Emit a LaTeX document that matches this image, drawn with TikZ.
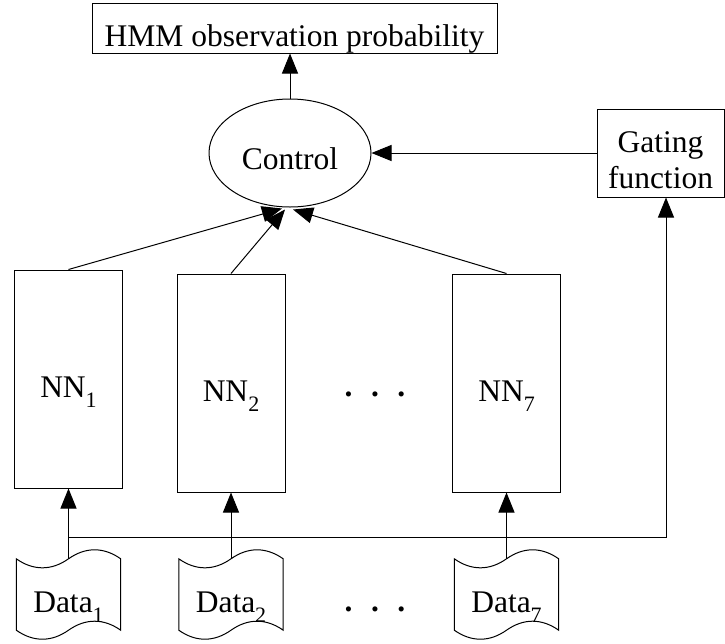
\documentclass[tikz,border=0pt]{standalone}
\usepackage{fontspec}
\setmainfont{Liberation Serif}
\usetikzlibrary{arrows.meta,shapes.geometric,calc}
\newcommand{\tapeshape}[1]{%
  \draw[ln] (#1.north west) .. controls +(17,12) and +(-17,12) .. (#1.north)
    .. controls +(17,-12) and +(-17,-12) .. (#1.north east)
    -- (#1.south east) .. controls +(-17,-12) and +(17,-12) .. (#1.south)
    .. controls +(-17,12) and +(17,12) .. (#1.south west) -- cycle;}
\newcommand{\sbs}[1]{\raisebox{-10pt}{\fontsize{22}{22}\selectfont #1}}
\begin{document}
\begin{tikzpicture}[x=1pt,y=-1pt,
  ln/.style={line width=1pt,black},
  arr/.style={ln,-{Triangle[length=20pt,width=16pt]}},
  txt/.style={font=\fontsize{31.5}{36}\selectfont},
  box/.style={txt,draw,ln,inner sep=0pt,align=center},
  nnbox/.style={box,minimum width=108pt,minimum height=218pt,text height=36pt,text depth=0pt},
  databox/.style={txt,inner sep=0pt,minimum width=104pt,minimum height=71pt,text height=35pt,text depth=0pt},
  dots/.style={txt,inner sep=0pt,anchor=base,font=\fontsize{31.5}{36}\selectfont\bfseries}
]
\useasboundingbox (0,0) rectangle (725,643);
\node[box,minimum width=405pt,minimum height=50pt,text height=36pt,text depth=0pt] (hmm) at (294.5,28) {HMM observation probability};
\node[txt,draw,ln,ellipse,minimum width=162pt,minimum height=108pt,inner sep=0pt,text height=32pt,text depth=0pt] (ctrl) at (290,153) {Control};
\node[box,minimum width=127pt,minimum height=88pt,text height=70pt,text depth=0pt] (gate) at (660.5,153) {Gating\\function};
\node[nnbox] (nn1) at (68.5,379) {NN\sbs{1}};
\node[nnbox] (nn2) at (231,383) {NN\sbs{2}};
\node[nnbox] (nn7) at (506.5,383) {NN\sbs{7}};
\node[dots] (dotsa) at (375,396) {.\hspace{18.5pt}.\hspace{18.5pt}.};
\node[databox] (d1) at (68.5,594.5) {Data\sbs{1}};
\node[databox] (d2) at (231,594.5) {Data\sbs{2}};
\node[databox] (d7) at (506.5,594.5) {Data\sbs{7}};
\node[dots] (dotsb) at (375,611) {.\hspace{18.5pt}.\hspace{18.5pt}.};
\tapeshape{d1}\tapeshape{d2}\tapeshape{d7}
\draw[arr] (ctrl.north) -- (ctrl.north |- hmm.south);
\draw[arr] (gate.west) -- (ctrl.east);
\draw[arr] (nn1.north) -- ($(ctrl.south)+(-8,1)$);
\draw[arr] (nn2.north) -- ($(ctrl.south)+(-5,2)$);
\draw[arr] (nn7.north) -- ($(ctrl.south)+(3,2)$);
\draw[arr] (d1.north) -- (nn1.south);
\draw[arr] (d2.north) -- (nn2.south);
\draw[arr] (d7.north) -- (nn7.south);
\coordinate (j) at (68.5,537);
\draw[arr] (j) -| ([xshift=5.5pt]gate.south);
\end{tikzpicture}
\end{document}
